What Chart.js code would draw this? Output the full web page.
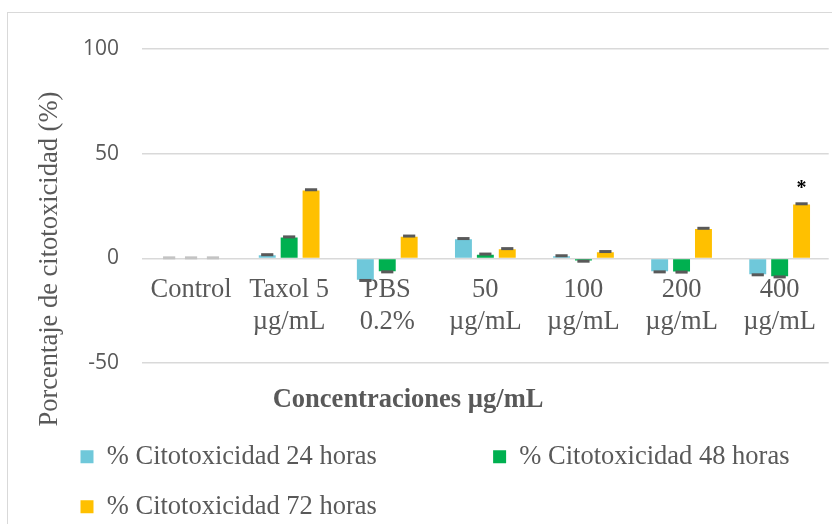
<!DOCTYPE html>
<html>
<head>
<meta charset="utf-8">
<script src="https://cdn.jsdelivr.net/npm/chart.js@4/dist/chart.umd.min.js"></script>
<style>
  html, body { margin: 0; padding: 0; background: #ffffff; overflow: hidden; width: 832px; height: 524px; }
  #frame { position: absolute; left: 7px; top: 12px; width: 900px; height: 600px; border: 1px solid #d9d9d9; box-sizing: border-box; }
  #wrap { position: absolute; left: 0; top: 0; width: 832px; height: 524px; }
</style>
</head>
<body>
<div id="frame"></div>
<div id="wrap"><canvas id="c" width="832" height="524"></canvas></div>
<script>
// ---- data ----
const categories = ['Control', ['Taxol 5', 'µg/mL'], ['PBS', '0.2%'], ['50', 'µg/mL'], ['100', 'µg/mL'], ['200', 'µg/mL'], ['400', 'µg/mL']];
const seriesLabels = ['% Citotoxicidad 24 horas', '% Citotoxicidad 48 horas', '% Citotoxicidad 72 horas'];
const values24 = [0, 1.5, -10.2, 9.2, 1.0, -6.1, -7.5];
const values48 = [0, 10.0, -6.1, 1.8, -1.0, -6.2, -8.5];
const values72 = [0, 32.5, 10.4, 4.4, 3.0, 14.1, 25.8];
const errors24 = [0.3, 0.3, 0.3, 0.3, 0.3, 0.3, 0.3];
const errors48 = [0.3, 0.3, 0.3, 0.3, 0.3, 0.3, 0.3];
const errors72 = [0.3, 0.3, 0.3, 0.3, 0.3, 0.3, 0.3];
const marks72 = ['', '', '', '', '', '', '*'];
const yMin = -50, yMax = 100, yStep = 50;
const yTitle = 'Porcentaje de citotoxicidad (%)';
const xTitle = 'Concentraciones µg/mL';

const colors = ['#6fc8da', '#00b050', '#ffc000'];
const gray = '#595959';
const serif = "'Liberation Serif', 'Times New Roman', serif";
const sans = "'Open Sans', sans-serif";

const errorCaps = {
  id: 'errorCaps',
  afterDatasetsDraw(chart) {
    const ctx = chart.ctx;
    const yScale = chart.scales.y;
    chart.data.datasets.forEach((ds, di) => {
      const meta = chart.getDatasetMeta(di);
      meta.data.forEach((bar, i) => {
        const v = ds.data[i];
        const e = ds.errors[i];
        const sign = v < 0 ? -1 : 1;
        const y0 = yScale.getPixelForValue(v);
        const y1 = yScale.getPixelForValue(v + sign * e);
        const half = bar.width * 0.36;
        ctx.save();
        ctx.strokeStyle = v === 0 ? '#c4c4c4' : gray;
        ctx.lineWidth = 1;
        ctx.beginPath(); ctx.moveTo(bar.x, y0); ctx.lineTo(bar.x, y1); ctx.stroke();
        ctx.lineWidth = 3;
        ctx.beginPath(); ctx.moveTo(bar.x - half, y1); ctx.lineTo(bar.x + half, y1); ctx.stroke();
        const m = ds.marks ? ds.marks[i] : '';
        if (m) {
          ctx.fillStyle = '#000000';
          ctx.font = "bold 20px " + serif;
          ctx.textAlign = 'center';
          ctx.textBaseline = 'alphabetic';
          ctx.fillText(m, bar.x, y1 - 10);
        }
        ctx.restore();
      });
    });
  }
};

new Chart(document.getElementById('c'), {
  type: 'bar',
  data: {
    labels: categories,
    datasets: [
      { label: seriesLabels[0], data: values24, errors: errors24, backgroundColor: colors[0], borderWidth: 0 },
      { label: seriesLabels[1], data: values48, errors: errors48, backgroundColor: colors[1], borderWidth: 0 },
      { label: seriesLabels[2], data: values72, errors: errors72, marks: marks72, backgroundColor: colors[2], borderWidth: 0 }
    ]
  },
  options: {
    responsive: false,
    animation: false,
    devicePixelRatio: 1,
    categoryPercentage: 0.67,
    barPercentage: 0.773,
    layout: { padding: { top: 49, left: 57, right: 0, bottom: -6 } },
    scales: {
      x: {
        position: { y: 0 },
        grid: { display: false, drawTicks: false },
        border: { display: false },
        ticks: {
          color: gray, padding: 16, maxRotation: 0, autoSkip: false,
          font: { family: serif, size: 26.5 }
        },
        afterFit(scale) { scale.height = 0; }
      },
      y: {
        min: yMin, max: yMax,
        grid: { color: '#d9d9d9', lineWidth: 1.5, drawTicks: false },
        border: { display: false },
        ticks: { stepSize: yStep, color: gray, padding: 23, font: { family: sans, size: 21 } },
        title: {
          display: true,
          text: yTitle + ' '.repeat(16),
          color: gray,
          font: { family: serif, size: 26.5 },
          padding: { top: -23, bottom: 0 }
        },
        afterFit(scale) { scale.width = 85; }
      }
    },
    plugins: {
      tooltip: { enabled: false },
      title: {
        display: true,
        position: 'bottom',
        weight: 500,
        text: xTitle + ' '.repeat(11),
        color: gray,
        font: { family: serif, size: 26.5, weight: 'bold' },
        padding: { top: 21, bottom: 4 }
      },
      legend: {
        position: 'bottom',
        align: 'start',
        weight: 1000,
        labels: {
          color: gray,
          boxWidth: 13,
          boxHeight: 13,
          padding: 23.5,
          font: { family: serif, size: 26.5 },
          generateLabels(chart) {
            const items = Chart.defaults.plugins.legend.labels.generateLabels(chart);
            items.forEach((it, i) => { if (i === 0) it.text = it.text + ' '.repeat(14); it.lineWidth = 0; });
            return items;
          }
        }
      }
    }
  },
  plugins: [errorCaps]
});
</script>
</body>
</html>
